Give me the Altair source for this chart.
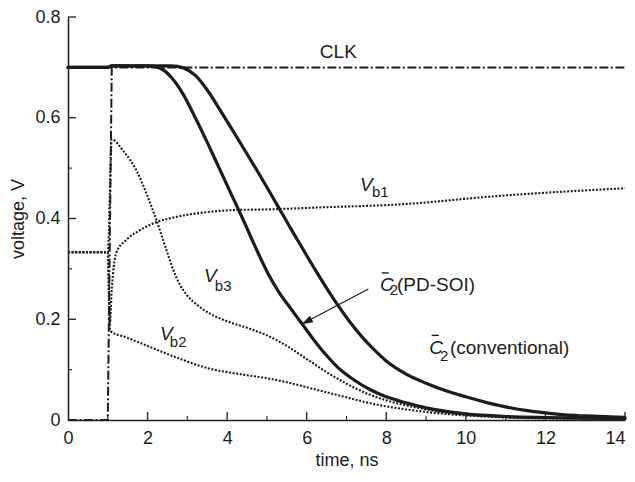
import math
import altair as alt
import pandas as pd

FONT = "Liberation Sans"
INK = "#1c1c1c"
W, H = 557, 403
X_MAX, Y_MAX = 14, 0.8

# ---------------- data ----------------
clk_x = [0, 1.0, 1.1, 14]
clk_y = [0, 0, 0.7, 0.7]

c2soi_x = [0, 1.0, 1.1, 2.0, 2.3, 2.6, 2.9, 3.2, 3.5, 3.8, 4.1, 4.4, 4.7, 5.0, 5.3, 5.6, 5.9,
           6.2, 6.5, 6.8, 7.2, 7.6, 8.0, 8.5, 9.0, 9.5, 10.0, 11.0, 12.0, 13.0, 14.0]
c2soi_y = [0.7, 0.7, 0.703, 0.703, 0.699, 0.680, 0.646, 0.600, 0.551, 0.500, 0.449, 0.398, 0.345,
           0.295, 0.254, 0.221, 0.189, 0.157, 0.128, 0.103, 0.079, 0.060, 0.046, 0.034, 0.024,
           0.017, 0.012, 0.007, 0.005, 0.004, 0.003]

c2conv_x = [0, 1.0, 1.1, 2.6, 2.9, 3.2, 3.5, 3.8, 4.1, 4.4, 4.7, 5.0, 5.3, 5.6, 5.9, 6.2, 6.5,
            6.8, 7.1, 7.4, 7.7, 8.0, 8.5, 9.0, 9.5, 10.0, 10.5, 11.0, 11.5, 12.0, 12.5, 13.0, 14.0]
c2conv_y = [0.7, 0.7, 0.703, 0.703, 0.699, 0.684, 0.655, 0.618, 0.580, 0.541, 0.502, 0.462, 0.421,
            0.380, 0.340, 0.300, 0.262, 0.226, 0.193, 0.164, 0.139, 0.117, 0.091, 0.073, 0.058,
            0.046, 0.035, 0.026, 0.019, 0.014, 0.010, 0.008, 0.005]

vb1_x = [0, 1.0, 1.05, 1.1, 1.15, 1.22, 1.47, 1.81, 2.23, 2.65, 3.32, 4.27, 5.0, 6.33, 8.34, 10.85, 14.0]
vb1_y = [0.333, 0.333, 0.19, 0.26, 0.305, 0.333, 0.358, 0.377, 0.393, 0.402, 0.411, 0.417, 0.418,
         0.422, 0.428, 0.445, 0.46]

vb2_x = [0, 1.0, 1.06, 1.5, 2.0, 2.5, 3.0, 3.5, 4.0, 4.5, 5.0, 5.5, 6.0, 6.5, 7.0, 7.5, 8.0,
         8.5, 9.0, 9.5, 10.0, 11.0, 12.0, 14.0]
vb2_y = [0.333, 0.333, 0.177, 0.163, 0.147, 0.131, 0.116, 0.103, 0.095, 0.089, 0.083, 0.075, 0.065,
         0.055, 0.045, 0.035, 0.027, 0.021, 0.016, 0.012, 0.009, 0.005, 0.003, 0.002]

vb3_x = [0, 1.0, 1.1, 1.39, 1.73, 1.98, 2.23, 2.48, 2.65, 2.81, 3.0, 3.25, 3.57, 4.0, 4.5, 5.0,
         5.5, 6.0, 6.5, 7.0, 7.5, 8.0, 8.5, 9.0, 9.5, 10.0, 11.0, 12.0, 14.0]
vb3_y = [0.333, 0.333, 0.557, 0.534, 0.494, 0.448, 0.395, 0.336, 0.297, 0.269, 0.247, 0.228, 0.211,
         0.196, 0.183, 0.168, 0.147, 0.121, 0.095, 0.072, 0.053, 0.039, 0.029, 0.021, 0.015,
         0.011, 0.006, 0.004, 0.002]

x_major = [0, 2, 4, 6, 8, 10, 12, 14]
x_minor = [1, 3, 5, 7, 9, 11, 13]
y_major = [0, 0.2, 0.4, 0.6, 0.8]
y_minor = [0.1, 0.3, 0.5, 0.7]

# annotations: text, left x, baseline y
label_text = ["CLK", "(PD-SOI)", "(conventional)"]
label_x = [6.33, 8.27, 9.6]
label_y = [0.719, 0.257, 0.131]

italic_text = ["V", "V", "V", "C", "C"]
italic_x = [7.34, 3.42, 2.31, 7.84, 9.08]
italic_y = [0.455, 0.273, 0.158, 0.257, 0.131]

sub_text = ["b1", "b3", "b2", "2", "2"]
sub_x = [7.64, 3.69, 2.56, 8.09, 9.35]
sub_y = [0.442, 0.257, 0.145, 0.248, 0.118]

bar_x = [7.89, 9.14]
bar_x2 = [8.06, 9.32]
bar_y = [0.292, 0.168]

arrow_x = [7.55, 5.87]
arrow_y = [0.260, 0.190]

# ---------------- chart ----------------
xs = alt.Scale(domain=[0, X_MAX], nice=False)
ys = alt.Scale(domain=[0, Y_MAX], nice=False)

x_axis = alt.Axis(values=x_major, ticks=False, grid=False, domainColor=INK, domainWidth=1.5,
                  labelFont=FONT, labelFontSize=18, labelColor=INK, labelPadding=9, labelFlush=False,
                  labelAlign={"condition": {"test": "datum.value == 14", "value": "right"}, "value": "center"},
                  title="time, ns", titleFont=FONT, titleFontSize=18, titleFontWeight="normal",
                  titleColor=INK, titlePadding=4)
y_axis = alt.Axis(values=y_major, format="~g", ticks=False, grid=False, domainColor=INK, domainWidth=1.5,
                  labelFont=FONT, labelFontSize=18, labelColor=INK, labelPadding=8, labelFlush=False,
                  title="voltage, V", titleFont=FONT, titleFontSize=18, titleFontWeight="normal",
                  titleColor=INK, titlePadding=7)

X = alt.X("x:Q", scale=xs, axis=x_axis)
Y = alt.Y("y:Q", scale=ys, axis=y_axis)


def frame(xv, yv):
    return pd.DataFrame({"x": xv, "y": yv, "i": list(range(len(xv)))})


def line(xv, yv, **mk):
    return alt.Chart(frame(xv, yv)).mark_line(**mk).encode(x=X, y=Y, order="i:Q")


thick = dict(color=INK, strokeWidth=3.2, strokeCap="round", strokeJoin="round", interpolate="monotone")
dotted = dict(color=INK, strokeWidth=2.1, strokeDash=[2, 1.6], interpolate="monotone")

layers = [
    line(vb1_x, vb1_y, **dotted),
    line(vb2_x, vb2_y, **dotted),
    line(vb3_x, vb3_y, **dotted),
    line(clk_x, clk_y, color=INK, strokeWidth=2, strokeDash=[9, 2.5, 2, 2.5]),
    line(c2soi_x, c2soi_y, **thick),
    line(c2conv_x, c2conv_y, **thick),
]

# inward ticks
tick_x_major = alt.Chart(pd.DataFrame({"x": x_major[1:]})).mark_rule(color=INK, strokeWidth=1.3).encode(
    x=X, y=alt.value(H), y2=alt.value(H - 8))
tick_x_minor = alt.Chart(pd.DataFrame({"x": x_minor})).mark_rule(color=INK, strokeWidth=1.1).encode(
    x=X, y=alt.value(H), y2=alt.value(H - 4))
tick_y_major = alt.Chart(pd.DataFrame({"y": y_major[1:]})).mark_rule(color=INK, strokeWidth=1.3).encode(
    y=Y, x=alt.value(0), x2=alt.value(8))
tick_y_minor = alt.Chart(pd.DataFrame({"y": y_minor})).mark_rule(color=INK, strokeWidth=1.1).encode(
    y=Y, x=alt.value(0), x2=alt.value(4))
layers += [tick_x_major, tick_x_minor, tick_y_major, tick_y_minor]

# arrow
arrow_df = pd.DataFrame({"x": [arrow_x[0]], "y": [arrow_y[0]], "x2": [arrow_x[1]], "y2": [arrow_y[1]]})
layers.append(alt.Chart(arrow_df).mark_rule(color=INK, strokeWidth=1.2).encode(
    x=X, y=Y, x2="x2:Q", y2="y2:Q"))
dxp = (arrow_x[1] - arrow_x[0]) * W / X_MAX
dyp = -(arrow_y[1] - arrow_y[0]) * H / Y_MAX
ang = (math.degrees(math.atan2(dxp, -dyp)) + 360) % 360
head_df = pd.DataFrame({"x": [arrow_x[1]], "y": [arrow_y[1]]})
layers.append(alt.Chart(head_df).mark_point(
    shape="M0,0L-0.32,1L0.32,1Z", size=520, filled=True, color=INK, opacity=1, angle=ang,
    strokeWidth=0).encode(x=X, y=Y))

# overbars
bar_df = pd.DataFrame({"x": bar_x, "x2": bar_x2, "y": bar_y})
layers.append(alt.Chart(bar_df).mark_rule(color=INK, strokeWidth=1.4).encode(x=X, x2="x2:Q", y=Y))


# text labels
def texts(tv, xv, yv, **mk):
    df = pd.DataFrame({"x": xv, "y": yv, "t": tv})
    return alt.Chart(df).mark_text(align="left", baseline="alphabetic", font=FONT, color=INK, **mk).encode(
        x=X, y=Y, text="t:N")


layers.append(texts(label_text, label_x, label_y, fontSize=19))
layers.append(texts(italic_text, italic_x, italic_y, fontSize=19, fontStyle="italic"))
layers.append(texts(sub_text, sub_x, sub_y, fontSize=15))

chart = alt.layer(*layers).properties(
    width=W, height=H,
    padding={"left": 60, "top": 9, "right": 2, "bottom": 49},
    autosize=alt.AutoSizeParams(type="none"),
    background="white",
).configure_view(stroke=None)

chart.save("out.html", embed_options={"renderer": "svg", "actions": False})
